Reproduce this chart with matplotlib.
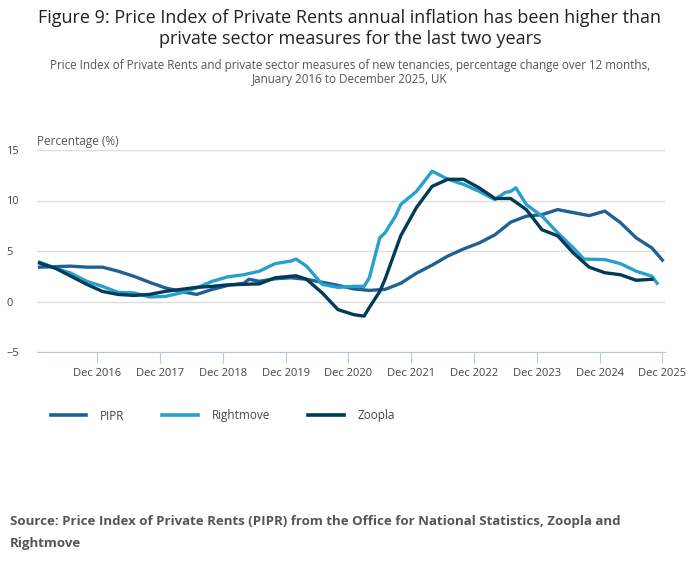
import matplotlib
matplotlib.use("Agg")
import matplotlib.pyplot as plt
from matplotlib.lines import Line2D

plt.rcParams["font.family"] = ["Open Sans", "DejaVu Sans"]

# ── Данные (индекс месяца: 0 = Jan 2016) ─────────────────────────────────────
PIPR_M = [0, 6, 9, 12, 15, 18, 21, 24, 27, 30, 33, 36, 39, 40, 42, 45, 48, 51, 54, 57,
          60, 63, 66, 69, 72, 75, 78, 81, 84, 87, 90, 93, 96, 99, 102, 105, 108, 111,
          114, 117, 119]
PIPR_V = [3.4, 3.5, 3.4, 3.4, 3.0, 2.5, 1.9, 1.35, 1.0, 0.7, 1.2, 1.6, 1.8, 2.2, 2.0,
          2.25, 2.35, 2.2, 1.9, 1.6, 1.25, 1.1, 1.2, 1.8, 2.8, 3.6, 4.5, 5.2, 5.8, 6.6,
          7.85, 8.45, 8.6, 9.1, 8.8, 8.5, 8.95, 7.8, 6.3, 5.3, 4.1]

RM_M = [0, 3, 6, 9, 12, 15, 18, 21, 24, 27, 30, 33, 36, 39, 42, 45, 48, 49, 51, 54, 57,
        60, 62, 63, 65, 66, 68, 69, 72, 75, 78, 81, 84, 87, 89, 90, 91, 93, 96, 99,
        102, 104, 108, 111, 114, 117, 118]
RM_V = [3.9, 3.3, 2.8, 2.0, 1.5, 0.9, 0.85, 0.45, 0.5, 0.85, 1.35, 2.0, 2.45, 2.65,
        3.0, 3.75, 4.0, 4.2, 3.5, 1.7, 1.4, 1.5, 1.5, 2.35, 6.3, 6.8, 8.45, 9.6, 10.9,
        12.9, 12.1, 11.6, 10.9, 10.1, 10.8, 10.9, 11.25, 9.6, 8.45, 6.8, 5.3, 4.2,
        4.15, 3.75, 3.0, 2.5, 1.8]

ZO_M = [0, 3, 6, 9, 12, 15, 18, 21, 24, 27, 30, 33, 36, 39, 42, 45, 48, 49, 51, 54, 57,
        60, 62, 63, 65, 66, 69, 72, 75, 78, 81, 84, 87, 90, 93, 96, 99, 102, 105, 108,
        111, 114, 117]
ZO_V = [3.8, 3.3, 2.5, 1.7, 1.0, 0.7, 0.6, 0.7, 1.0, 1.2, 1.4, 1.5, 1.65, 1.7, 1.75,
        2.35, 2.5, 2.55, 2.2, 0.85, -0.8, -1.3, -1.45, -0.6, 1.0, 2.2, 6.5, 9.3, 11.4,
        12.1, 12.1, 11.25, 10.2, 10.2, 9.1, 7.1, 6.5, 4.8, 3.4, 2.85, 2.65, 2.1, 2.2]

TICK_M = [11 + 12 * i for i in range(10)]
TICK_L = [f"Dec {2016 + i}" for i in range(10)]

COLORS = {"PIPR": "#206095", "Rightmove": "#27a0cc", "Zoopla": "#003c57"}

# ── График ───────────────────────────────────────────────────────────────────
fig = plt.figure(figsize=(7.0, 5.74), dpi=100)
ax = fig.add_axes([37 / 700, 1 - 352 / 574, (665 - 37) / 700, 202 / 574])

ax.plot(PIPR_M, PIPR_V, color=COLORS["PIPR"], lw=2.4)
ax.plot(RM_M, RM_V, color=COLORS["Rightmove"], lw=2.4)
ax.plot(ZO_M, ZO_V, color=COLORS["Zoopla"], lw=2.4)

ax.set_xlim(-0.5, 119.5)
ax.set_ylim(-5, 15)
ax.set_yticks([-5, 0, 5, 10, 15])
ax.set_xticks(TICK_M)
ax.set_xticklabels(TICK_L)
ax.grid(axis="y", color="#dddddd", lw=1)
ax.set_axisbelow(True)
for s in ["top", "right", "left"]:
    ax.spines[s].set_visible(False)
ax.spines["bottom"].set_color("#b8c8e0")
ax.tick_params(axis="y", length=0, labelsize=8, labelcolor="#444444", pad=22)
ax.tick_params(axis="x", length=8, color="#b8c8e0", labelsize=8, labelcolor="#444444")
for lbl in ax.get_yticklabels():
    lbl.set_horizontalalignment("left")

fig.text(37 / 700, 1 - 142 / 574, "Percentage (%)", fontsize=8.5, color="#555555",
         va="center")

fig.text(0.5, 1 - 18 / 574, "Figure 9: Price Index of Private Rents annual inflation has been higher than",
         ha="center", va="center", fontsize=13, color="#222222")
fig.text(0.5, 1 - 39 / 574, "private sector measures for the last two years",
         ha="center", va="center", fontsize=13, color="#222222")
fig.text(0.5, 1 - 65 / 574,
         "Price Index of Private Rents and private sector measures of new tenancies, percentage change over 12 months,",
         ha="center", va="center", fontsize=8.4, color="#555555")
fig.text(0.5, 1 - 79 / 574, "January 2016 to December 2025, UK",
         ha="center", va="center", fontsize=8.4, color="#555555")

handles = [Line2D([], [], color=COLORS[k], lw=2.6) for k in COLORS]
fig.legend(handles, list(COLORS), loc="center left", bbox_to_anchor=(40 / 700, 1 - 416 / 574),
           ncol=3, frameon=False, fontsize=8.5, handlelength=3.0, columnspacing=3.2,
           handletextpad=1.2, labelcolor="#444444")

fig.text(10 / 700, 1 - 521 / 574,
         "Source: Price Index of Private Rents (PIPR) from the Office for National Statistics, Zoopla and",
         fontsize=9.5, fontweight="bold", color="#555555", va="center")
fig.text(10 / 700, 1 - 544 / 574, "Rightmove",
         fontsize=9.5, fontweight="bold", color="#555555", va="center")

fig.savefig("out.png", dpi=100)
